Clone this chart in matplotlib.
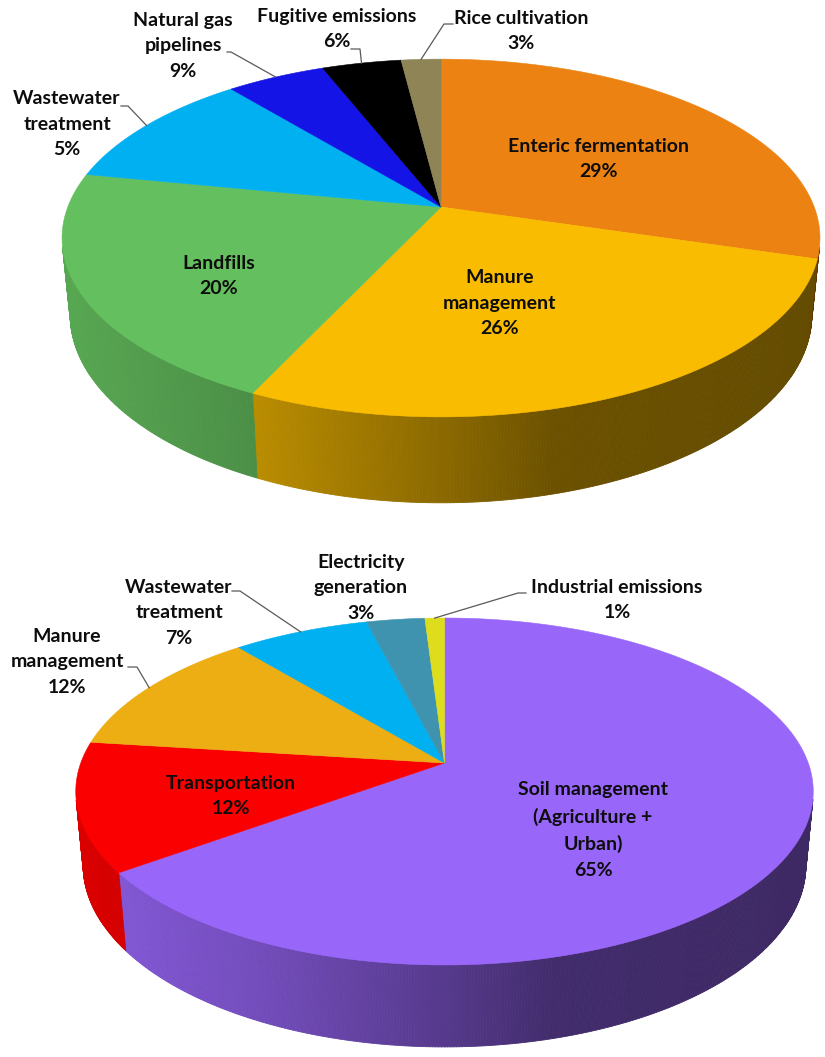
import numpy as np
import matplotlib
matplotlib.use("Agg")
import matplotlib.pyplot as plt
from matplotlib.collections import PolyCollection
from matplotlib.patches import Polygon
from matplotlib.colors import to_rgb

plt.rcParams['font.family'] = ['Lato', 'DejaVu Sans']

# ---- data ----
# top chart (slices drawn clockwise from 12 o'clock)
top_labels = ["Enteric fermentation", "Manure\nmanagement", "Landfills",
              "Wastewater\ntreatment", "Natural gas\npipelines",
              "Fugitive emissions", "Rice cultivation"]
top_pct = [29, 26, 20, 5, 9, 6, 3]                    # percent printed on the chart
top_share = [29.6, 27.4, 21.1, 10.9, 5.0, 4.0, 2.0]   # slice sizes as drawn
top_colors = ["#ec8212", "#f9bc00", "#64bf5e", "#00b0f0", "#1414e6", "#000000", "#8e8455"]

# bottom chart
bot_labels = ["Soil management\n(Agriculture +\nUrban)", "Transportation",
              "Manure\nmanagement", "Wastewater\ntreatment",
              "Electricity\ngeneration", "Industrial emissions"]
bot_pct = [65, 12, 12, 7, 3, 1]
bot_share = [65, 12, 12, 7, 3, 1]
bot_colors = ["#9966fa", "#fa0000", "#ecae12", "#00b0f0", "#3f93ae", "#dddd1e"]

# ---- layout (pixels) ----
# camera: cx, cy, focal, distance, tilt, thickness
top_cam = (441, 207, 1906, 5.107, np.radians(27.7), 0.234)
bot_cam = (444.5, 763, 1962, 5.394, np.radians(27.65), 0.230)

top_text_xy = [(598, 159), (500, 303), (219, 276), (67, 124), (183, 46), (337, 29), (521, 31)]
bot_text_xy = [(593, 830), (231, 796), (67, 662), (179, 613), (361, 588), (617, 600)]
# leader lines: slice index -> (text end x, line y, elbow x)
top_leaders = {3: (121, 106, 128), 4: (227, 52, 231), 5: (351, 49, 360), 6: (453, 24, 444)}
bot_leaders = {2: (128, 667, 137), 3: (232, 591, 240), 5: (526, 593, 518)}


def project(X, Y, Z, cam):
    cx, cy, f, D, phi, h = cam
    s, c = np.sin(phi), np.cos(phi)
    v = Y * s + Z * c
    d = D + Y * c - Z * s
    return cx + f * X / d, cy - f * v / d


def shade(u):
    return np.interp(u, [-1, -0.5, 0, 0.3, 1], [0.88, 0.75, 0.56, 0.43, 0.40])


def draw_pie3d(ax, shares, colors, cam):
    cx, cy, f, D, phi, h = cam
    frac = np.array(shares, float) / np.sum(shares)
    edges = 90 - 360 * np.concatenate([[0], np.cumsum(frac)])
    halfw = project(1.0, -np.cos(phi) / D, 0, cam)[0] - cx
    Dc = D * np.cos(phi)
    polys, fcs = [], []
    mids = []
    for i, col in enumerate(colors):
        a0, a1 = edges[i], edges[i + 1]
        mids.append(np.radians((a0 + a1) / 2))
        n = max(int(abs(a1 - a0) / 0.4), 2)
        th = np.radians(np.linspace(a0, a1, n + 1))
        base = np.array(to_rgb(col))
        for j in range(n):
            tm = 0.5 * (th[j] + th[j + 1])
            if -1 - Dc * np.sin(tm) <= 0:
                continue
            t2 = th[j:j + 2]
            xt, yt = project(np.cos(t2), np.sin(t2), 0, cam)
            xb, yb = project(np.cos(t2), np.sin(t2), -h, cam)
            polys.append([(xt[0], yt[0]), (xt[1], yt[1]), (xb[1], yb[1]), (xb[0], yb[0])])
            u = (np.mean(xt) - cx) / halfw
            fcs.append(np.clip(base * shade(u), 0, 1))
    ax.add_collection(PolyCollection(polys, facecolors=fcs, edgecolors=fcs, linewidths=0.6))
    for i, col in enumerate(colors):
        th = np.radians(np.linspace(edges[i], edges[i + 1], 200))
        xs, ys = project(np.cos(th), np.sin(th), 0, cam)
        pts = [(cx, cy)] + list(zip(xs, ys))
        ax.add_patch(Polygon(pts, closed=True, facecolor=col, edgecolor=col, lw=0.4))
    return mids


def draw_labels(ax, labels, pcts, xy, leaders, mids, cam):
    for i, (lab, p) in enumerate(zip(labels, pcts)):
        ax.text(xy[i][0], xy[i][1], "%s\n%d%%" % (lab, p), ha="center", va="center",
                fontsize=14, fontweight="bold", color="#0d0d0d", linespacing=1.62)
        if i in leaders:
            x0, y0, xe = leaders[i]
            t = mids[i]
            xa, ya = project(np.cos(t), np.sin(t), 0, cam)
            ax.plot([x0, xe, xa], [y0, y0, ya], color="#595959", lw=0.9)


fig = plt.figure(figsize=(8.25, 10.57), dpi=100)
ax = fig.add_axes([0, 0, 1, 1])
ax.set_xlim(0, 825)
ax.set_ylim(1057, 0)
ax.axis("off")

mids = draw_pie3d(ax, top_share, top_colors, top_cam)
draw_labels(ax, top_labels, top_pct, top_text_xy, top_leaders, mids, top_cam)

mids = draw_pie3d(ax, bot_share, bot_colors, bot_cam)
draw_labels(ax, bot_labels, bot_pct, bot_text_xy, bot_leaders, mids, bot_cam)

fig.savefig("out.png", dpi=100)
